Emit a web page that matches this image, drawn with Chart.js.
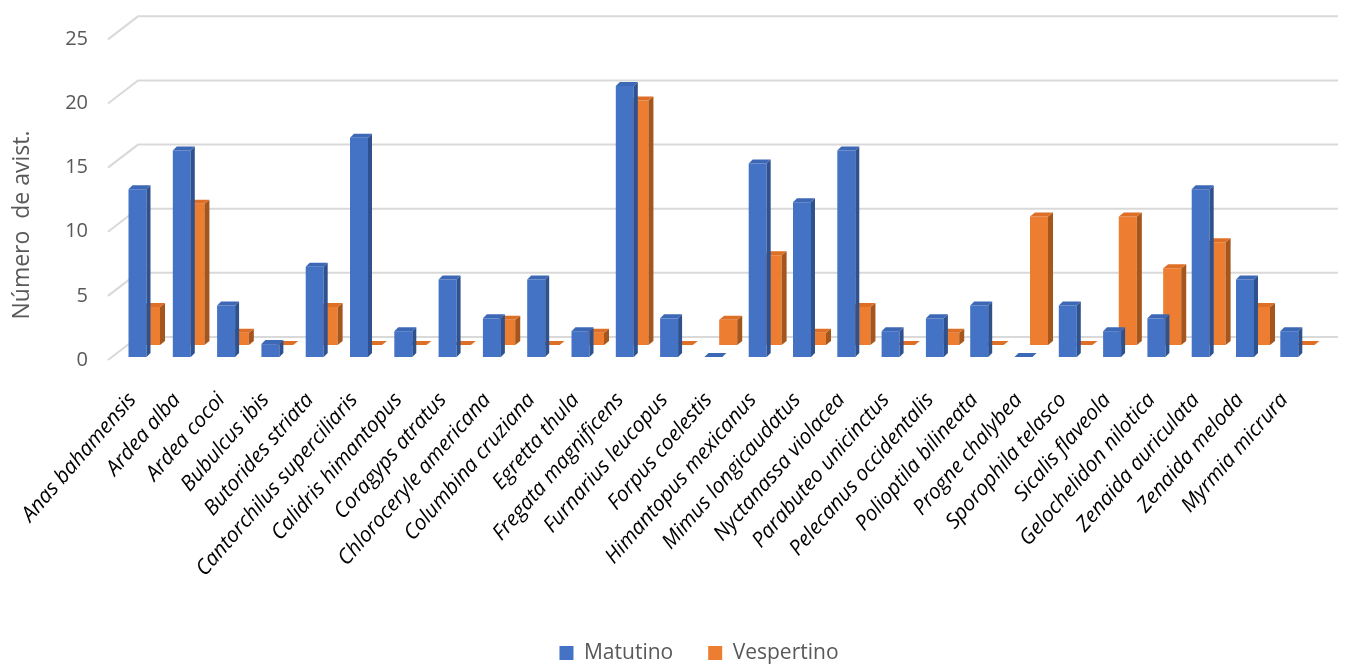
<!DOCTYPE html>
<html>
<head>
<meta charset="utf-8">
<title>Avistamientos por especie</title>
<script src="https://cdn.jsdelivr.net/npm/chart.js@4.4.1/dist/chart.umd.min.js"></script>
<style>
  html, body { margin: 0; padding: 0; background: #ffffff; }
  #wrap { width: 1349px; height: 668px; }
</style>
</head>
<body>
<div id="wrap"><canvas id="chart" width="1349" height="668"></canvas></div>
<script>
// ---- data ----
const species = [
  'Anas bahamensis', 'Ardea alba', 'Ardea cocoi', 'Bubulcus ibis', 'Butorides striata',
  'Cantorchilus superciliaris', 'Calidris himantopus', 'Coragyps atratus', 'Chloroceryle americana',
  'Columbina cruziana', 'Egretta thula', 'Fregata magnificens', 'Furnarius leucopus', 'Forpus coelestis',
  'Himantopus mexicanus', 'Mimus longicaudatus', 'Nyctanassa violacea', 'Parabuteo unicinctus',
  'Pelecanus occidentalis', 'Polioptila bilineata', 'Progne chalybea', 'Sporophila telasco',
  'Sicalis flaveola', 'Gelochelidon nilotica', 'Zenaida auriculata', 'Zenaida meloda', 'Myrmia micrura'
];
const matutino   = [13, 16, 4, 1, 7, 17, 2, 6, 3, 6, 2, 21, 3, 0, 15, 12, 16, 2, 3, 4, 0, 4, 2, 3, 13, 6, 2];
const vespertino = [4, 12, 2, 0, 4, 0, 0, 0, 3, 0, 2, 20, 0, 3, 8, 2, 4, 0, 2, 0, 11, 0, 11, 7, 9, 4, 0];
const seriesNames = ['Matutino', 'Vespertino'];
const valueTicks = [0, 5, 10, 15, 20, 25];
const axisTitle = 'Número  de avist.';

// ---- layout of the pseudo-3D plot box ----
const FONT = "'Open Sans', Lato, 'DejaVu Sans', sans-serif";
const PLOT = { left: 115.35, right: 1311.45, top: 37, bottom: 360 };
const PAD = { left: 55, right: 6, top: PLOT.top, bottom: -5.5 };
const SLOT = (PLOT.right - PLOT.left) / species.length;
const PX_PER_UNIT = 13;               // vertical size of one sighting
const FRONT_ZERO = 357;               // base line of the front row of columns
const BACK_ZERO = 358.5;              // zero line of the back row (seen further away)
const BACK_FLOOR = 345;               // where the floor hides the back row
const BACK_X0 = 151, BACK_STEP = 44.4;// back row centres, shifted by perspective
const BAR_FRACTION = 0.406;
const WALL = { inset: -7.35, dx: 30, dy: -23, overhang: 26.5, color: '#D9D9D9' };

// horizontal mapping of the back row relative to the front row
const BACK_SCALE = BACK_STEP / SLOT;
const BACK_SHIFT = BACK_X0 - BACK_SCALE * (PLOT.left + SLOT / 2);

const FACES = [
  { front: '#4472C4', side: '#2F528F', top: '#3D68B6', dx: 4, dy: -4, floor: null, back: false },
  { front: '#ED7D31', side: '#A5561C', top: '#DE6F26', dx: 5, dy: -4, floor: BACK_FLOOR, back: true }
];

function rangeFor(zeroPx) {
  return { min: (zeroPx - PLOT.bottom) / PX_PER_UNIT, max: (zeroPx - PLOT.top) / PX_PER_UNIT };
}
const frontRange = rangeFor(FRONT_ZERO);
const backRange = rangeFor(BACK_ZERO);

// back wall with its gridlines, drawn from the value axis ticks
const backWall = {
  id: 'backWall',
  beforeDatasetsDraw(chart) {
    const { ctx, chartArea, scales } = chart;
    const y = scales.y;
    const x0 = chartArea.left + WALL.inset;
    const x1 = x0 + WALL.dx;
    const x2 = chartArea.right + WALL.overhang;
    ctx.save();
    ctx.strokeStyle = WALL.color;
    ctx.lineWidth = 2;
    y.ticks.forEach(t => {
      const yf = y.getPixelForValue(t.value);
      ctx.beginPath();
      ctx.moveTo(x0, yf);
      ctx.lineTo(x1, yf + WALL.dy);
      ctx.lineTo(x2, yf + WALL.dy);
      ctx.stroke();
    });
    ctx.restore();
  }
};

// side and top faces of every column; the back row is set back in depth
const columnFaces = {
  id: 'columnFaces',
  beforeDatasetDraw(chart, args) {
    const f = FACES[args.index];
    const ctx = chart.ctx;
    ctx.save();
    if (f.floor != null) {
      ctx.beginPath();
      ctx.rect(0, 0, chart.width, f.floor);
      ctx.clip();
    }
    if (f.back) ctx.transform(BACK_SCALE, 0, 0, 1, BACK_SHIFT, 0);
  },
  afterDatasetDraw(chart, args) {
    const f = FACES[args.index];
    const ctx = chart.ctx;
    args.meta.data.forEach(el => {
      const { x, y, base, width } = el.getProps(['x', 'y', 'base', 'width'], true);
      const l = x - width / 2, r = x + width / 2;
      let top = Math.min(y, base), bottom = Math.max(y, base);
      if (f.floor != null) { top = Math.min(top, f.floor); bottom = Math.min(bottom, f.floor); }
      ctx.fillStyle = f.side;
      ctx.beginPath();
      ctx.moveTo(r, top); ctx.lineTo(r + f.dx, top + f.dy);
      ctx.lineTo(r + f.dx, bottom + f.dy); ctx.lineTo(r, bottom);
      ctx.closePath(); ctx.fill();
      ctx.fillStyle = f.top;
      ctx.beginPath();
      ctx.moveTo(l, top); ctx.lineTo(l + f.dx, top + f.dy);
      ctx.lineTo(r + f.dx, top + f.dy); ctx.lineTo(r, top);
      ctx.closePath(); ctx.fill();
    });
    ctx.restore();
  }
};

// rotated value-axis title
const valueTitle = {
  id: 'valueTitle',
  afterDraw(chart) {
    const ctx = chart.ctx;
    ctx.save();
    ctx.translate(22, 225);
    ctx.rotate(-Math.PI / 2);
    ctx.font = `23px ${FONT}`;
    ctx.fillStyle = '#595959';
    ctx.textAlign = 'center';
    ctx.textBaseline = 'middle';
    ctx.fillText(axisTitle, 0, 0);
    ctx.restore();
  }
};

new Chart(document.getElementById('chart'), {
  type: 'bar',
  data: {
    labels: species,
    datasets: [
      {
        label: seriesNames[0],
        data: matutino,
        backgroundColor: FACES[0].front,
        yAxisID: 'yFront',
        grouped: false, categoryPercentage: 1, barPercentage: BAR_FRACTION,
        borderWidth: 0, clip: false
      },
      {
        label: seriesNames[1],
        data: vespertino,
        backgroundColor: FACES[1].front,
        yAxisID: 'yBack',
        grouped: false, categoryPercentage: 1, barPercentage: BAR_FRACTION,
        borderWidth: 0, clip: false
      }
    ]
  },
  options: {
    responsive: false,
    animation: false,
    devicePixelRatio: 1,
    layout: { padding: PAD },
    plugins: {
      tooltip: { enabled: false },
      legend: {
        position: 'bottom',
        labels: {
          boxWidth: 14, boxHeight: 14, padding: 35,
          color: '#595959',
          font: { family: FONT, size: 21 }
        }
      }
    },
    scales: {
      x: {
        type: 'category',
        grid: { display: false, drawTicks: false },
        border: { display: false },
        ticks: {
          autoSkip: false, minRotation: 49, maxRotation: 49,
          color: '#000000', padding: 28, labelOffset: -5,
          font: { family: FONT, size: 21, style: 'italic' }
        },
        afterFit(scale) { scale.height = 247.5; }
      },
      y: {
        type: 'linear', position: 'left', min: valueTicks[0], max: valueTicks[valueTicks.length - 1],
        grid: { display: false, drawTicks: false },
        border: { display: false },
        afterBuildTicks(scale) { scale.ticks = valueTicks.map(v => ({ value: v })); },
        ticks: { color: '#595959', padding: PLOT.left - 88, font: { family: FONT, size: 20 } },
        afterFit(scale) { scale.width = PLOT.left - PAD.left; }
      },
      yFront: { type: 'linear', display: false, min: frontRange.min, max: frontRange.max },
      yBack: {
        type: 'linear', position: 'right', min: backRange.min, max: backRange.max,
        grid: { display: false, drawTicks: false },
        border: { display: false },
        ticks: { display: false },
        afterFit(scale) { scale.width = 1349 - PAD.right - PLOT.right; }
      }
    }
  },
  plugins: [backWall, columnFaces, valueTitle]
});
</script>
</body>
</html>
